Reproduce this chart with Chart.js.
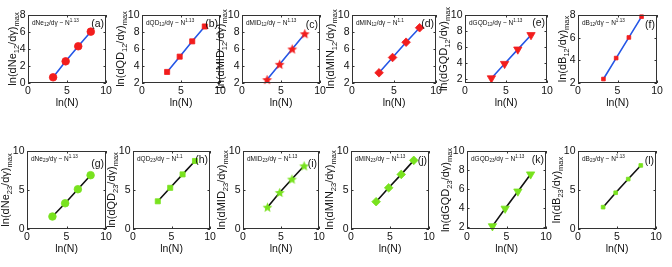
<!DOCTYPE html>
<html><head><meta charset="utf-8">
<script src="https://cdn.jsdelivr.net/npm/chart.js@4"></script>
<style>
html,body{margin:0;padding:0;background:#fff;}
#wrap{position:relative;width:672px;height:267px;overflow:hidden;background:#fff;}
.p{position:absolute;}
</style></head><body><div id="wrap"></div>
<script>
// ---------- data ----------
const lnN = [3.22, 4.83, 6.44, 8.05];
const xTicks = [0, 5, 10];

const dNe12  = [0.67, 2.55, 4.32, 6.04];
const dQD12  = [3.30, 5.10, 6.90, 8.65];
const dMID12 = [2.40, 4.20, 6.00, 7.80];
const dMIN12 = [3.20, 5.00, 6.80, 8.50];
const dGQD12 = [2.10, 3.90, 5.70, 7.50];
const dB12   = [2.35, 4.20, 6.02, 7.85];
const dNe23  = [1.60, 3.30, 5.10, 6.90];
const dQD23  = [3.55, 5.28, 7.00, 8.72];
const dMID23 = [2.80, 4.68, 6.40, 8.10];
const dMIN23 = [3.50, 5.28, 7.00, 8.80];
const dGQD23 = [2.10, 3.95, 5.75, 7.55];
const dB23   = [2.80, 4.65, 6.40, 8.15];

const ticks0to8 = [0, 2, 4, 6, 8];
const ticks2to10 = [2, 4, 6, 8, 10];
const ticks2to8 = [2, 4, 6, 8];
const ticks0to10 = [0, 5, 10];

const panelTags = ['(a)','(b)','(c)','(d)','(e)','(f)','(g)','(h)','(i)','(j)','(k)','(l)'];
const yTitles = [
 'ln(dNe_{12}/dγ)_{max}','ln(dQD_{12}/dγ)_{max}','ln(dMID_{12}/dγ)_{max}','ln(dMIN_{12}/dγ)_{max}','ln(dGQD_{12}/dγ)_{max}','ln(dB_{12}/dγ)_{max}',
 'ln(dNe_{23}/dγ)_{max}','ln(dQD_{23}/dγ)_{max}','ln(dMID_{23}/dγ)_{max}','ln(dMIN_{23}/dγ)_{max}','ln(dGQD_{23}/dγ)_{max}','ln(dB_{23}/dγ)_{max}'];
const notes = [
 'dNe_{12}/dγ ~ N^{1.13}','dQD_{12}/dγ ~ N^{1.13}','dMID_{12}/dγ ~ N^{1.13}','dMIN_{12}/dγ ~ N^{1.1}','dGQD_{12}/dγ ~ N^{1.13}','dB_{12}/dγ ~ N^{1.13}',
 'dNe_{23}/dγ ~ N^{1.13}','dQD_{23}/dγ ~ N^{1.1}','dMID_{23}/dγ ~ N^{1.13}','dMIN_{23}/dγ ~ N^{1.13}','dGQD_{23}/dγ ~ N^{1.13}','dB_{23}/dγ ~ N^{1.13}'];
const xTitle = 'ln(N)';

const seriesValues = [dNe12,dQD12,dMID12,dMIN12,dGQD12,dB12,dNe23,dQD23,dMID23,dMIN23,dGQD23,dB23];
const yMins = [0,2,2,2,1.5,2, 0,0,0,0,1.8,0];
const yMaxs = [8,10,10,10,10,8, 10,10,10,10,10,10];
const yTickSets = [ticks0to8,ticks2to10,ticks2to10,ticks2to10,ticks2to10,ticks2to8,
                   ticks0to10,ticks0to10,ticks0to10,ticks0to10,ticks2to10,ticks0to10];

// ---------- layout / style ----------
const frames = [
 [28,15,78,68],[142,15,78,68],[242,15,78,68],[352,15,84,68],[465,15,82,68],[578,15,79,68],
 [27,151,79,78],[133,151,77,78],[243,151,76,78],[351,151,78,78],[467,151,79,78],[578,151,78,78]];
const tagDy = [9,9,10,9,8,10, 13,9,13,10,9,10];
const RED = '#f21d1d', GREEN = '#78e21e', BLUE = '#2456e6', BLACK = '#111';
const FONT = '"Liberation Sans", Arial, sans-serif';

function makeStar(r, color){
  const s = Math.ceil(2*r+2), c = document.createElement('canvas');
  c.width = c.height = s;
  const g = c.getContext('2d');
  g.translate(s/2, s/2+0.5);
  g.beginPath();
  for(let i=0;i<10;i++){
    const rr = i%2 ? r*0.45 : r, a = -Math.PI/2 + i*Math.PI/5;
    g.lineTo(rr*Math.cos(a), rr*Math.sin(a));
  }
  g.closePath(); g.fillStyle = color; g.fill();
  return c;
}
const markers = [
 {style:'circle', r:3.8, rot:0},
 {style:'rect', r:3.6, rot:0},
 {style:makeStar(5.2, RED), r:5, rot:0},
 {style:'rectRot', r:4.3, rot:0},
 {style:'triangle', r:4.8, rot:180},
 {style:'rect', r:2.6, rot:0},
 {style:'circle', r:3.8, rot:0},
 {style:'rect', r:3.6, rot:0},
 {style:makeStar(5.2, GREEN), r:5, rot:0},
 {style:'rectRot', r:4.3, rot:0},
 {style:'triangle', r:4.8, rot:180},
 {style:'rect', r:2.6, rot:0}];

function parseRich(s){
  const parts=[]; let i=0, buf='';
  while(i<s.length){
    if((s[i]==='_'||s[i]==='^') && s[i+1]==='{'){
      if(buf){parts.push({t:buf,k:0}); buf='';}
      const j = s.indexOf('}', i);
      parts.push({t:s.slice(i+2,j), k: s[i]==='_'?1:-1});
      i = j+1;
    } else { buf += s[i]; i++; }
  }
  if(buf) parts.push({t:buf,k:0});
  return parts;
}
function drawRich(ctx, s, x, y, size, subSize, align){
  const parts = parseRich(s);
  let total = 0;
  parts.forEach(p=>{ ctx.font = (p.k? subSize:size)+'px '+FONT; p.w = ctx.measureText(p.t).width; total += p.w; });
  let cx = align==='center' ? x-total/2 : (align==='right' ? x-total : x);
  ctx.textAlign='left'; ctx.textBaseline='alphabetic';
  parts.forEach(p=>{
    ctx.font = (p.k? subSize:size)+'px '+FONT;
    const dy = p.k===1 ? size*0.28 : (p.k===-1 ? -size*0.42 : 0);
    ctx.fillText(p.t, cx, y+dy);
    cx += p.w;
  });
}

const padL=40, padT=10, padR=14, padB=26;
const wrap = document.getElementById('wrap');

frames.forEach((f, idx)=>{
  const [L,T,W,H] = f;
  const div = document.createElement('div');
  div.className='p';
  const cw = W+padL+padR, ch = H+padT+padB;
  div.style.left=(L-padL)+'px'; div.style.top=(T-padT)+'px';
  div.style.width=cw+'px'; div.style.height=ch+'px';
  const cv = document.createElement('canvas');
  cv.width=cw; cv.height=ch; cv.style.width=cw+'px'; cv.style.height=ch+'px';
  div.appendChild(cv); wrap.appendChild(div);

  const top = idx<6;
  const mcol = top ? RED : GREEN;
  const lcol = top ? BLUE : BLACK;
  const mk = markers[idx];
  const vals = seriesValues[idx];
  const yt = yTickSets[idx];

  const framePlugin = {
    id:'frame'+idx,
    afterDraw(chart){
      const ctx = chart.ctx, a = chart.chartArea;
      const xs = chart.scales.x, ys = chart.scales.y;
      ctx.save();
      ctx.strokeStyle='#333'; ctx.lineWidth=1;
      ctx.strokeRect(Math.round(a.left)+0.5, Math.round(a.top)+0.5, Math.round(a.right-a.left)-1, Math.round(a.bottom-a.top)-1);
      ctx.beginPath();
      const tl = 2.5;
      yt.forEach(v=>{ const py=Math.round(ys.getPixelForValue(v))+0.5;
        ctx.moveTo(a.left, py); ctx.lineTo(a.left+tl, py);
        ctx.moveTo(a.right, py); ctx.lineTo(a.right-tl, py); });
      xTicks.forEach(v=>{ const px=Math.round(xs.getPixelForValue(v))+0.5;
        ctx.moveTo(px, a.bottom); ctx.lineTo(px, a.bottom-tl);
        ctx.moveTo(px, a.top); ctx.lineTo(px, a.top+tl); });
      ctx.stroke();
      ctx.fillStyle='#111';
      drawRich(ctx, notes[idx], a.left+4, a.top+9.5, 6.5, 4.6, 'left');
      ctx.font='10.5px '+FONT; ctx.textAlign='right'; ctx.textBaseline='middle';
      ctx.fillText(panelTags[idx], a.right-2, a.top+tagDy[idx]);
      ctx.font='10.5px '+FONT;
      let mw=0; yt.forEach(v=>{ mw=Math.max(mw, ctx.measureText(String(v)).width); });
      const bx = a.left - 2.5 - mw - 3.5;
      ctx.translate(bx, (a.top+a.bottom)/2);
      ctx.rotate(-Math.PI/2);
      drawRich(ctx, yTitles[idx], 0, 0, 11, 7.5, 'center');
      ctx.restore();
    }
  };

  new Chart(cv, {
    type:'line',
    data:{ datasets:[{
      data: lnN.map((x,i)=>({x:x, y:vals[i]})),
      showLine:true, borderColor:lcol, borderWidth:1.6, tension:0,
      pointStyle: mk.style, pointRadius: mk.r, pointRotation: mk.rot,
      pointBackgroundColor: mcol, pointBorderColor: mcol, pointBorderWidth: 0.8,
      clip:false
    }]},
    options:{
      responsive:false, animation:false, devicePixelRatio:1,
      layout:{padding:{left:0, top:padT, right:padR, bottom:0}},
      plugins:{legend:{display:false}, tooltip:{enabled:false}},
      scales:{
        x:{ type:'linear', min:0, max:10,
            afterBuildTicks: s=>{ s.ticks = xTicks.map(v=>({value:v})); },
            afterFit: s=>{ s.height = padB; },
            grid:{display:false, drawTicks:false}, border:{display:false},
            ticks:{font:{family:FONT, size:10.5}, color:'#111', padding:2, maxRotation:0},
            title:{display:true, text:xTitle, font:{family:FONT, size:10.5}, color:'#111', padding:{top:0,bottom:0}} },
        y:{ type:'linear', min:yMins[idx], max:yMaxs[idx],
            afterBuildTicks: s=>{ s.ticks = yt.map(v=>({value:v})); },
            afterFit: s=>{ s.width = padL; },
            grid:{display:false, drawTicks:false}, border:{display:false},
            ticks:{font:{family:FONT, size:10.5}, color:'#111', padding:2.5} }
      }
    },
    plugins:[framePlugin]
  });
});
</script></body></html>
